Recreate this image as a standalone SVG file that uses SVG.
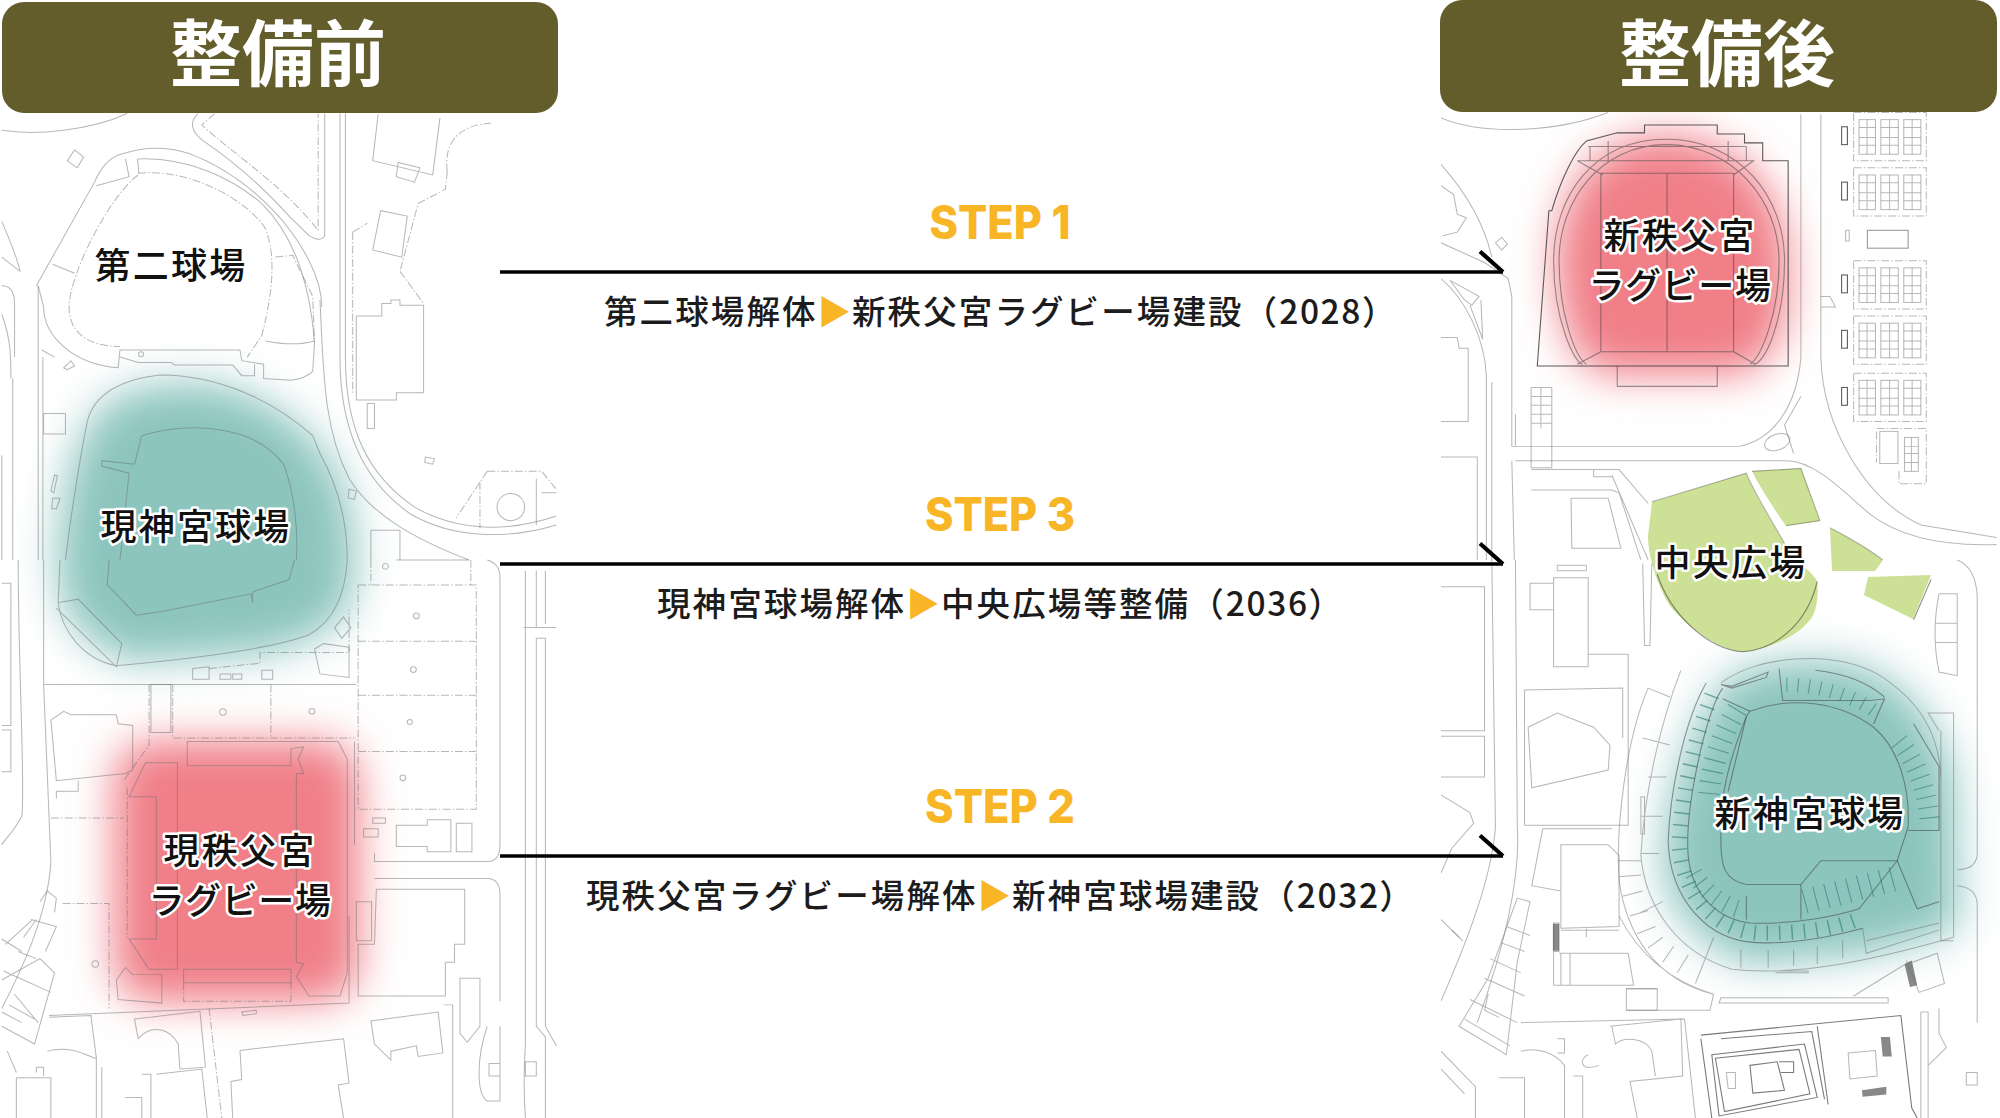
<svg xmlns="http://www.w3.org/2000/svg" xmlns:xlink="http://www.w3.org/1999/xlink" width="2000" height="1118" viewBox="0 0 2000 1118">
<style>
text{font-family:"Noto Sans CJK JP","Noto Sans",sans-serif}
.map path,.map rect,.map circle,.map ellipse,#lot rect,#lot path{fill:none;stroke:#707070;stroke-opacity:.5;stroke-width:2.8}
.map .d,#lot .d{stroke-dasharray:22 6 4 6}
.map .k,#lot .k{stroke:#333;stroke-opacity:.8;stroke-width:3}
.map .m{stroke:#444;stroke-opacity:.55;stroke-width:3}
.map .seat{stroke:#2f7a70;stroke-opacity:.6}
.map .h{fill:#555;fill-opacity:.7;stroke:none}
.banner{fill:#635d2c}
.title{fill:#fff;font-size:72px;font-weight:700;text-anchor:middle}
.step{fill:#f8b526;font-family:Inter,"Liberation Sans",sans-serif;font-size:46px;font-weight:800;text-anchor:middle}
.desc{fill:#1c1c1c;font-size:33.5px;font-weight:500;letter-spacing:2.1px}
.num{letter-spacing:1.6px}
.gold{fill:#f8b526;letter-spacing:0}
.lbl{fill:#111;font-size:36px;font-weight:500;letter-spacing:2.2px;text-anchor:middle;stroke:#fff;stroke-width:5px;stroke-linejoin:round;paint-order:stroke}
.lbl.kana{letter-spacing:.6px}
.map path.teal{fill:#8cc5be;stroke:none;filter:url(#soft)}
.map path.red{fill:#f07f88;stroke:none;filter:url(#soft)}
.map path.green{fill:#cce096;stroke:none}
.conn{fill:none;stroke:#000;stroke-width:3.6px}
</style>
<defs>
<filter id="soft" x="-30%" y="-30%" width="160%" height="160%"><feGaussianBlur stdDeviation="21"/></filter>
<clipPath id="lc"><rect x="0" y="0" width="557" height="1118"/></clipPath>
<clipPath id="rc"><rect x="1441" y="0" width="559" height="1118"/></clipPath>
<marker id="half" markerUnits="userSpaceOnUse" markerWidth="34" markerHeight="34" viewBox="0 0 34 34" refX="30" refY="26" orient="auto" overflow="visible"><path d="M7 5.500L30 26" fill="none" stroke="#000" stroke-width="4.200"/></marker>
<g id="lot"><rect x="0" y="0" width="45" height="97"/><rect x="60" y="0" width="48" height="97"/><rect x="123" y="0" width="47" height="97"/><path d="M22 0V97M84 0V97M146 0V97M0 22H45M60 22H108M123 22H170M0 50H45M60 50H108M123 50H170M0 72H45M60 72H108M123 72H170"/><rect class="d" x="-15" y="-20" width="200" height="135"/><rect class="k" x="-48" y="20" width="16" height="50"/></g>
</defs>

<g id="map-before" class="map" clip-path="url(#lc)">
<path class="teal" d="M58 560C62 470 82 422 112 400C140 384 180 380 222 386C278 402 324 438 344 488C356 530 358 572 349 604C338 630 302 645 260 654L130 662C88 644 56 622 58 560Z"/>
<path class="red" d="M160 741H312Q359 741 359 785V960Q359 1002 312 1002H160Q114 1002 114 960V785Q114 741 160 741Z"/>
<g transform="scale(.3636 .3571)">
<path d="M5 365C100 380 250 365 350 318M545 318C520 340 525 370 560 395C640 450 720 520 800 610L850 660Q880 680 893 660V318"/>
<path class="d" d="M590 318L555 350C640 430 780 520 875 645V318"/>
<path d="M935 318V1000C935 1200 1000 1350 1130 1440C1250 1510 1400 1510 1530 1470M950 318V1000C950 1200 1010 1330 1140 1420C1260 1490 1400 1490 1530 1445M880 840C890 1050 890 1200 960 1340C1020 1440 1140 1510 1290 1568"/>
<path d="M100 800L260 510Q290 440 340 430Q430 400 520 430C650 480 780 590 850 730Q885 800 885 860M380 445C520 440 640 500 720 570C790 640 850 760 865 960L860 1040Q840 1060 800 1065L725 1060V1020L665 1010L660 980H330L325 1030C200 1020 120 940 120 860L105 800"/>
<path class="d" d="M380 485C520 470 680 560 730 640C760 720 750 820 720 940L680 1000M380 490C300 550 190 770 190 860C190 930 240 970 330 970"/>
<path d="M345 445L355 495L265 520M145 740L205 765M730 955C780 965 830 965 865 955M330 1000L380 1015H470L480 1022H640L665 1052H700V1020M378 445L382 485"/>
<path class="d" d="M757 720L805 715L860 830L865 960"/>
<path d="M205 420L230 440L212 470L185 450Z"/><circle cx="388" cy="992" r="7"/>
<path d="M115 980L150 1000M175 1030L195 1010L205 1025L185 1035Z"/>
<path d="M1040 320L1025 450L1190 490L1210 330M1095 455L1090 495L1140 510L1155 470ZM1047 590L1025 700L1105 720L1120 605ZM980 885H1050V850H1075V840H1100V855H1165V1100H1090V1120H980ZM1010 1130H1030V1200H1010Z"/>
<path class="d" d="M970 650L1010 625M970 650V1100M1100 760L1165 850M1230 480C1220 400 1260 350 1350 345M1230 480L1225 530L1150 570L1100 760"/>
<circle cx="1405" cy="1420" r="38"/>
<path class="d" d="M1340 1320H1490L1530 1370M1340 1320L1255 1450M1320 1350V1480"/><path d="M1475 1340V1470M1490 1380H1530"/>
<path d="M5 620C30 680 50 730 55 760L5 720M5 800C30 800 40 820 40 850V1000M5 880C30 950 30 1000 30 1060M35 1060V1568M105 800V1568M118 1000V1568M5 1275V1568M120 1158H180V1215H120ZM1020 1485H1100V1568M1020 1485V1568"/>
<path d="M180 1568C200 1400 230 1230 240 1180C260 1100 340 1060 440 1050C600 1050 750 1120 860 1220L880 1270C940 1380 955 1480 955 1568M390 1220L370 1300L280 1290V1305L355 1325L330 1568M390 1220C520 1180 700 1190 780 1300C810 1380 820 1480 815 1568"/>
<path d="M960 1370L980 1375L975 1398L958 1395ZM1170 1280L1195 1285L1190 1300L1168 1295ZM150 1330L158 1332L148 1380L140 1375ZM145 1395H165L155 1425H142Z"/>
</g>
<g transform="translate(0 560) scale(.3636 .3559)">
<path d="M165 0L160 120L215 110L335 235L320 300L155 135M160 120C170 200 230 280 320 297C500 280 750 250 850 210C920 170 950 90 955 0M300 0L295 70L375 155L445 145L690 95L695 120V90L795 55L810 0"/>
<path d="M122 350H980M120 0V350L140 850C130 1000 60 1150 5 1260M50 0C50 300 70 650 60 720C40 760 10 790 5 800M5 65H30V465H5M5 478H30V595H5"/>
<rect class="d" x="985" y="70" width="325" height="630"/>
<path class="d" d="M985 228H1310M985 380H1310M985 538H1310M475 350V500H975M745 350V500M410 350V520L340 620M140 725H340M350 640V1060"/>
<circle cx="1145" cy="157" r="8"/><circle cx="1137" cy="308" r="8"/><circle cx="1127" cy="455" r="7"/><circle cx="1108" cy="612" r="8"/><circle cx="613" cy="427" r="9"/><circle cx="858" cy="425" r="8"/><circle cx="262" cy="1135" r="9"/>
<path d="M415 350H470V485H415ZM140 450L175 425L195 435H320L325 460L365 465V590L345 600L155 620ZM155 670V650H215V620M530 335V305L575 300V335ZM605 320H635V335H605ZM640 320H665V335H640ZM720 310H750V335H720ZM865 250L890 235L960 245V330L880 320ZM920 190L945 160L965 190L940 220Z"/>
<path class="d" d="M575 305L715 290V260H960V140M1020 0V70M1295 0V70"/>
<path d="M1090 0H1290M1340 0Q1375 10 1375 50V800Q1375 847 1340 847H1030V825M1060 10a8 8 0 1 0 .1 0"/>
<path d="M400 570H488V1150H410L355 1065H430V665H355ZM515 510H930L955 560V1160L935 1225H850L815 1170L835 1135L815 1130V600H835L820 560L835 525L800 530V578H515ZM505 1150H800V1188H505ZM975 510V800M135 1280L960 1245V1000M320 1180L345 1145L365 1165H445V1245L325 1235Z"/>
<path class="d" d="M505 1188V1240H800V1188M172 965H300V1260"/>
<path d="M1030 895H1340Q1375 895 1375 940V1240M1035 925H1278V1080H1250V1130H1225V1225H985V1080H1030ZM980 960H1022V1070H980ZM1090 745H1175V730H1240V820H1175V805H1090ZM1255 740H1298V820H1255ZM1000 755H1040V778H1000ZM1025 725H1060V740H1025Z"/>
<path d="M370 1290L550 1268L565 1425L495 1430L490 1360C470 1320 420 1300 380 1345ZM660 1378L945 1345L960 1470L930 1475L945 1568M660 1378L665 1460L635 1465L640 1568M1020 1295L1205 1270L1218 1385L1150 1395L1145 1365L1075 1380V1405L1030 1360ZM1265 1175H1320V1310L1285 1355L1265 1330ZM665 1270L705 1265V1275L668 1280Z"/>
<path class="d" d="M575 1260L610 1568"/>
<path d="M135 1285L250 1280L265 1400V1568M430 1445L555 1430L570 1568M45 1455H140V1568M45 1455V1568M1220 1250H1245V1568M1445 30V1360C1440 1440 1440 1500 1445 1568M1500 30V180M1475 190V30M1475 220H1500V1310L1530 1365M1475 220V1310L1500 1340V1568M1440 190H1530M1340 1310C1310 1400 1310 1500 1340 1520H1375V1310M280 1425V1568M345 1510H390V1568M390 1445H415V1568M1345 1415H1375V1450H1345ZM1445 1410H1475V1450H1445Z"/>
<path d="M5 1180L110 1120L150 1160L95 1360L5 1310M85 1010L155 1030L125 1100M110 960L130 930L155 950L150 990M65 1060L100 1010M50 1100L100 1120M10 1155L140 1215M40 1220L105 1300M25 1250L95 1290M5 1270L60 1300M5 1065L60 1100M15 1080L90 1010M130 1380C200 1360 250 1400 265 1400M20 1380L45 1440M100 1440V1425H120V1450"/>
</g>
</g>

<g id="map-after" class="map" clip-path="url(#rc)">
<path class="red" d="M1665 136C1740 136 1784 190 1788 260C1790 320 1780 365 1735 375H1610C1572 370 1558 320 1556 262C1558 195 1590 136 1665 136Z"/>
<path class="teal" d="M1725 682C1760 660 1810 655 1855 665C1905 680 1945 725 1955 790L1958 930L1865 955L1755 965C1710 955 1672 915 1664 875C1660 810 1690 725 1725 682Z"/>
<path class="green" d="M1652 502L1746 473C1755 495 1780 535 1794 560C1802 565 1812 572 1817 581C1820 605 1812 620 1808 622C1795 638 1765 650 1743 652C1720 650 1690 630 1670 606C1660 590 1648 560 1648 536Z"/>
<path class="green" d="M1752 471L1801 468L1820 521L1786 526C1775 510 1760 488 1752 471Z"/>
<path class="green" d="M1830 528C1850 538 1870 550 1883 560L1875 571H1832Z"/>
<path class="green" d="M1868 577L1931 575L1913 619L1864 595Z"/>
<g transform="translate(1430 0) scale(.3636 .3571)">
<path d="M30 330C150 380 350 370 490 315M30 460C100 540 150 630 170 720M30 520L65 545L75 600L100 610L75 650L35 660M180 680L197 665L213 683L197 700ZM30 680L150 735L215 780L225 830V1250M30 780C100 840 150 950 155 1050V1568M170 1070V1568M55 785L135 830L115 855L95 840ZM140 840L145 950L110 855M30 945H75L80 975H105V1180H30M30 1280H130V1568"/>
<path d="M278 1085H335V1310H278ZM278 1110H335M278 1135H335M278 1160H335M278 1185H335M305 1085V1200"/>
<path d="M235 1250H850C950 1230 1010 1130 1020 1000V320M235 1290H980C1060 1290 1140 1380 1210 1440C1300 1510 1420 1530 1558 1525M1075 320V1000C1080 1200 1200 1400 1350 1470L1558 1505M225 1250H235V1160M225 1290L232 1568"/>
<ellipse cx="955" cy="1238" rx="36" ry="22" transform="rotate(-20 955 1238)"/>
<path d="M1020 1110L975 1190L1000 1270M1075 830H1100L1115 860H1075M278 1315H520L600 1410M278 1372H500L520 1380L580 1568M388 1395H490L525 1535H390ZM500 1330L600 1568M450 1315V1335H500"/>
<path class="m" d="M470 485H835V985H470ZM652 485V985M405 450H890L835 490M405 450L475 490M405 1020L470 985M895 1020L835 985M650 390C850 390 975 550 975 730C975 900 920 1020 890 1020M650 390C450 390 340 550 340 730C340 900 400 1020 420 1020M650 405C830 405 960 560 960 730C960 880 910 1000 880 1020M650 405C470 405 355 560 355 730C355 880 400 1000 430 1020M435 410H870M490 395V450M820 395V450M440 410V450M870 410V450"/>
<path class="k" d="M590 350H790V375H865V400H915V450H985V1025H295L327 590H335C360 500 400 420 430 395L515 372H590Z"/>
<path class="m" d="M515 1025V1082H790V1025"/>
<use xlink:href="#lot" href="#lot" x="1180" y="335"/><use xlink:href="#lot" href="#lot" x="1180" y="490"/><use xlink:href="#lot" href="#lot" x="1180" y="750"/><use xlink:href="#lot" href="#lot" x="1180" y="905"/><use xlink:href="#lot" href="#lot" x="1180" y="1065"/>
<rect class="m" x="1203" y="645" width="112" height="50"/><rect x="1143" y="645" width="10" height="30"/>
<rect x="1237" y="1208" width="50" height="90"/><rect x="1305" y="1225" width="38" height="95"/>
<path d="M1305 1250H1343M1305 1270H1343M1305 1295H1343M1324 1225V1320"/><path class="d" d="M1228 1208V1295M1290 1320V1355H1365V1200H1230"/>
<path class="k" d="M1000 1568C960 1490 890 1380 870 1325L610 1405M885 1320L1020 1312C1040 1370 1060 1420 1072 1458L980 1472M1100 1478C1160 1510 1210 1540 1245 1568" style="stroke-opacity:.35"/>
</g>
<g transform="translate(1430 560) scale(.3636 .3559)">
<path class="k" d="M1378 55L1330 168M625 40C660 150 760 250 860 258C960 250 1040 170 1065 60" style="stroke-opacity:.55"/>
<path d="M170 0L180 750C170 900 90 1100 30 1240M235 0L240 750C250 900 200 1100 130 1300M30 75H150V480H30M30 495H150V610H30M340 50H435V300H340ZM275 65H340V140H275ZM435 265H545V745H260V365L530 360V500M270 470L350 430L450 470L495 520L490 590L280 640ZM360 800H490L520 830V1030L360 1035ZM355 1105H545L560 1195H340V1100M340 1020H355V1100H340ZM310 755H500M310 755L280 915L360 930M360 1040H520M360 1105V1195M385 1105V1195M430 1035V1060"/>
<path d="M30 660L110 710L120 740L60 810L30 880M30 1010L80 1060M350 15H430V30H350ZM585 10L590 240H605L610 10"/>
<path d="M800 345C900 270 1100 250 1230 320C1340 390 1400 480 1405 610"/>
<path class="m" d="M880 425C1000 380 1130 400 1220 470C1290 530 1320 640 1315 750L1285 845H1075L1020 912H870C810 900 800 860 800 790C800 700 800 620 870 440Z"/>
<path class="m" d="M805 360C760 420 700 700 710 830C720 950 800 1010 880 1020C1000 1025 1120 1000 1180 980L1285 845M760 345C700 450 660 650 655 790C660 950 760 1070 900 1075C1000 1080 1100 1060 1190 1035M880 425L805 390M870 440L820 650M960 305L970 395H1210L1250 390L1220 460M1060 310C1150 320 1210 350 1250 385M1330 460L1400 580V760H1315M1285 845L1340 980L1400 960M1020 912V1010M870 945V1010M800 350L830 355L930 315L925 330L830 360Z"/>
<path class="seat" style="fill:none;stroke-width:42;stroke-dasharray:4 30" d="M775 380C720 520 690 680 685 800C695 950 790 1040 900 1048C1000 1050 1100 1040 1175 1010"/>
<path class="seat" style="fill:none;stroke-width:60;stroke-dasharray:3 28" d="M845 420C795 500 770 600 765 680"/>
<path class="seat" style="fill:none;stroke-width:40;stroke-dasharray:3 28" d="M980 350C1060 350 1170 380 1230 430"/>
<path class="seat" style="fill:none;stroke-width:55;stroke-dasharray:3 26" d="M1290 510C1340 570 1370 650 1375 750"/>
<path class="seat" style="fill:none;stroke-width:70;stroke-dasharray:3 28" d="M1030 960L1300 890"/>
<path class="seat" style="fill:none;stroke-width:50;stroke-dasharray:3 28" d="M725 880C760 940 820 980 870 985"/>
<path d="M600 360C540 500 510 750 520 900C540 1050 620 1180 780 1220L770 1265H540V1205H625M690 310C640 440 590 640 580 830C590 960 670 1100 830 1150C1000 1170 1200 1130 1440 1060V430H1370L1400 480M520 1000C570 1100 650 1180 780 1220M515 845H580M780 1060L730 1190M640 960L580 990M600 360L660 385M585 500L660 520M600 610H650M580 720H640M580 825H630M520 890L580 885M530 945L585 930M550 1000L600 985M570 1050L620 1030M600 1090L640 1060M640 1130L670 1085M680 1160L710 1110M1190 1035L1200 1105L1400 1040M1200 1070L1400 1020M855 1095V1145M930 1095V1145M1000 1095V1140M1065 1085V1135M1135 1070V1120M950 1155H1040V1160H950M580 665V770H590V665Z"/>
<path d="M1400 95H1450V325L1400 315C1385 240 1385 170 1400 95M1390 178H1450M1390 232H1450M1405 480V1070H1440M1450 0Q1500 20 1505 100V830Q1500 870 1450 870M1450 915Q1505 920 1505 970V1300"/>
<path class="k" d="M745 1335L1295 1280L1325 1540L1340 1568M745 1345L775 1568M1065 1310L1095 1530M785 1400L1015 1375L1045 1500L810 1550ZM775 1390L1030 1360L1065 1510L795 1562ZM880 1420L955 1410L975 1490L888 1498ZM960 1410H1000V1440H965M800 1345L1050 1325L1085 1515" style="stroke-opacity:.65"/>
<path d="M1150 1385L1225 1378L1230 1450L1155 1458ZM815 1440H840V1485H820Z"/>
<path class="h" d="M1240 1340H1265L1270 1395H1245ZM1188 1490L1255 1480V1502L1190 1508ZM1305 1135L1325 1125L1340 1195L1320 1200ZM338 1022H355V1098H338Z"/>
<path d="M250 1300L700 1290L730 1568M495 1310L690 1290L695 1450L550 1465L570 1568M190 1455H260V1568M1400 1260V1330L1420 1370L1370 1420V1568M1350 1270H1370V1420M1350 1270V1568M1475 1440H1505V1475H1475ZM795 1245H1260V1230H800ZM540 1205H625V1265H540M1165 1225L1300 1140L1395 1105L1415 1190L1345 1215L1310 1125M500 1310L510 1360C530 1340 590 1340 610 1380L620 1450M250 1380C290 1370 340 1380 370 1420V1568M350 1345H370V1385H350M435 1390C410 1400 410 1440 465 1420M395 1450H420V1568"/>
<path d="M240 950L275 960L240 1130L210 1390L80 1310L160 1175ZM210 1030L275 1055M195 1075L260 1100M165 1120L250 1160M150 1175L260 1225M110 1235L240 1300M95 1290L220 1365M160 1220L150 1265L190 1285M30 1380L125 1480V1568M30 1430L95 1500M60 1040L90 1070"/>
</g>
</g>

<g id="banner-before"><rect class="banner" x="2" y="2" width="556" height="111" rx="22"/><text class="title" x="278" y="80">整備前</text></g>
<g id="banner-after"><rect class="banner" x="1440" y="0" width="557" height="112" rx="22"/><text class="title" x="1727" y="80">整備後</text></g>

<g id="connectors">
<path class="conn" d="M500 272H1503" marker-end="url(#half)"/>
<path class="conn" d="M500 564H1503" marker-end="url(#half)"/>
<path class="conn" d="M500 856H1503" marker-end="url(#half)"/>
</g>

<g id="step1"><text class="step" x="1000" y="239" textLength="141" lengthAdjust="spacingAndGlyphs">STEP 1</text>
<text class="desc" x="604" y="324">第二球場解体<tspan class="gold">▶</tspan><tspan x="852">新秩父宮ラグビー場建設（<tspan class="num">2028</tspan>）</tspan></text></g>
<g id="step3"><text class="step" x="1000" y="531" textLength="150" lengthAdjust="spacingAndGlyphs">STEP 3</text>
<text class="desc" x="657" y="616">現神宮球場解体<tspan class="gold">▶</tspan><tspan x="941">中央広場等整備（<tspan class="num">2036</tspan>）</tspan></text></g>
<g id="step2"><text class="step" x="1000" y="823" textLength="150" lengthAdjust="spacingAndGlyphs">STEP 2</text>
<text class="desc" x="586" y="908">現秩父宮ラグビー場解体<tspan class="gold">▶</tspan><tspan x="1012">新神宮球場建設（<tspan class="num">2032</tspan>）</tspan></text></g>

<g id="node-dai2"><text class="lbl" x="171" y="279">第二球場</text></g>
<g id="node-genjingu"><text class="lbl" x="196" y="540">現神宮球場</text></g>
<g id="node-genchichibu"><text class="lbl" x="240" y="864">現秩父宮</text><text class="lbl kana" x="240" y="914">ラグビー場</text></g>
<g id="node-shinchichibu"><text class="lbl" x="1680" y="249">新秩父宮</text><text class="lbl kana" x="1680" y="299">ラグビー場</text></g>
<g id="node-chuo"><text class="lbl" x="1731" y="576">中央広場</text></g>
<g id="node-shinjingu"><text class="lbl" x="1810" y="827">新神宮球場</text></g>
</svg>
